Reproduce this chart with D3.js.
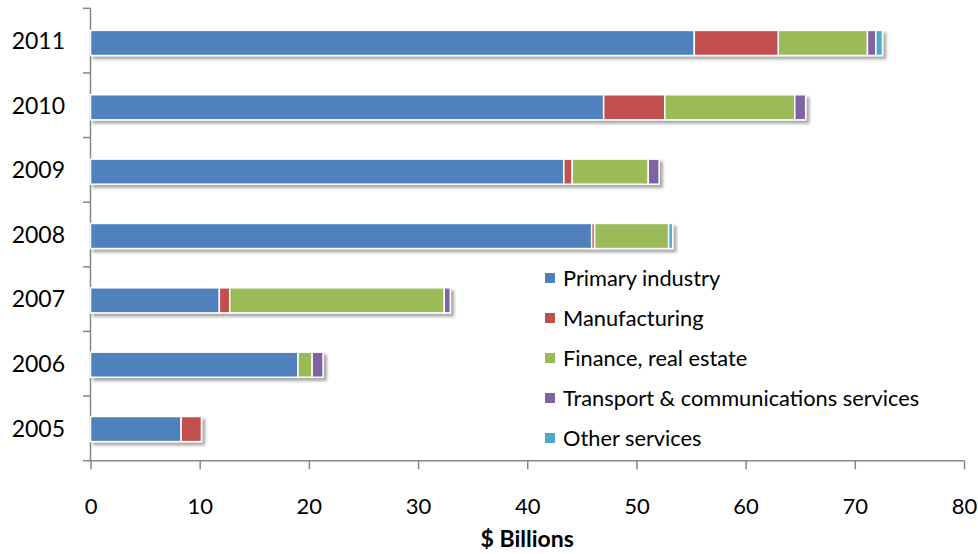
<!DOCTYPE html>
<html><head><meta charset="utf-8">
<script src="https://cdn.jsdelivr.net/npm/d3@7"></script>
<style>
html,body{margin:0;padding:0;background:#fff;}
text{font-family:Lato,"Open Sans",sans-serif;fill:#000;}
</style></head>
<body><svg id="c" width="978" height="554"></svg>
<script>
const years = ["2005","2006","2007","2008","2009","2010","2011"];
const primary       = [8.3, 19.0, 11.8, 45.9, 43.35, 47.0, 55.3];
const manufacturing = [1.86, 0, 0.95, 0.27, 0.76, 5.6, 7.7];
const finance       = [0, 1.3, 19.65, 6.78, 6.97, 11.9, 8.16];
const transport     = [0, 1.0, 0.55, 0, 1.0, 1.0, 0.77];
const other         = [0, 0, 0, 0.37, 0, 0, 0.6];
const seriesNames = ["Primary industry","Manufacturing","Finance, real estate","Transport & communications services","Other services"];
const colors = ["#4F81BD","#C0504D","#9BBB59","#8064A2","#4BACC6"];
const xTicks = [0,10,20,30,40,50,60,70,80];

const svg = d3.select("#c");
const x = d3.scaleLinear().domain([0,80]).range([90.5,964]);
const y = d3.scaleBand().domain(years.slice().reverse()).range([8.3,460.7]).paddingInner(0.61).paddingOuter(0.32);
const yb = d3.scaleBand().domain(years.slice().reverse()).range([8.3,460.7]);

const defs = svg.append("defs");
const f = defs.append("filter").attr("id","sh").attr("x","-5%").attr("y","-40%").attr("width","115%").attr("height","200%");
f.append("feDropShadow").attr("dx",3).attr("dy",3).attr("stdDeviation",1.8).attr("flood-color","#000").attr("flood-opacity",0.35);

const table = years.map((yr,i)=>({year:yr, s0:primary[i], s1:manufacturing[i], s2:finance[i], s3:transport[i], s4:other[i]}));
const stack = d3.stack().keys(["s0","s1","s2","s3","s4"])(table);

// axes
const axisColor = "#868686";
const gy = svg.append("g");
gy.append("line").attr("x1",90.5).attr("x2",90.5).attr("y1",8.3).attr("y2",460.7).attr("stroke",axisColor).attr("stroke-width",1.5);
const yTickPos = d3.range(8).map(k=>8.3 + k*yb.step());
gy.selectAll("line.t").data(yTickPos).join("line").attr("class","t")
  .attr("x1",83).attr("x2",90.5).attr("y1",d=>d).attr("y2",d=>d).attr("stroke",axisColor).attr("stroke-width",1.5);
gy.selectAll("text").data(years).join("text")
  .attr("x",65).attr("y",d=>yb(d)+yb.bandwidth()/2).attr("dy","0.36em")
  .attr("text-anchor","end").style("font-size","23px").text(d=>d);

// bars
const rows = svg.append("g").selectAll("g").data(years).join("g").attr("filter","url(#sh)");
rows.each(function(yr,i){
  const g = d3.select(this);
  stack.forEach((s,k)=>{
    const d = s[i];
    if (d[1]-d[0] <= 0) return;
    g.append("rect").attr("x",x(d[0])).attr("width",x(d[1])-x(d[0]))
     .attr("y",y(yr)+1.5).attr("height",y.bandwidth())
     .attr("fill",colors[k]).attr("stroke","#fff").attr("stroke-width",1.5);
  });
});

const gx = svg.append("g").attr("transform","translate(0,460.7)");
gx.call(d3.axisBottom(x).tickValues(xTicks).tickSize(8.5).tickFormat(d3.format("d")));
gx.select(".domain").attr("stroke",axisColor).attr("stroke-width",1.5).attr("d","M90.5,0H964");
gx.selectAll(".tick line").attr("stroke",axisColor).attr("stroke-width",1.5);
gx.selectAll(".tick text").attr("y",53).attr("dy",null)
  .style("font-size","22px").style("font-family","Lato,'Open Sans',sans-serif").attr("fill","#000");

svg.append("text").attr("x",(x(0)+x(80))/2).attr("y",547).attr("text-anchor","middle")
  .style("font-size","23px").style("font-weight","bold").text("$ Billions");

// legend
const lg = svg.append("g").selectAll("g").data(seriesNames).join("g")
  .attr("transform",(d,i)=>`translate(545,${278+i*40})`);
lg.append("rect").attr("x",0).attr("y",-5).attr("width",10).attr("height",10).attr("fill",(d,i)=>colors[i]);
lg.append("text").attr("x",18).attr("y",0).attr("dy","0.36em").style("font-size","21.8px").text(d=>d);
</script></body></html>
